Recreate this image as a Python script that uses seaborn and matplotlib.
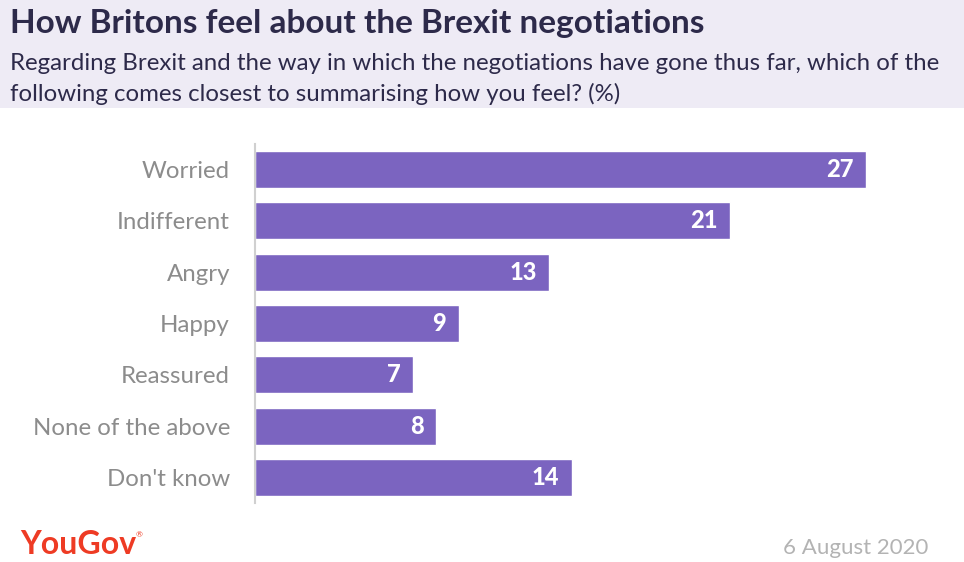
import matplotlib.pyplot as plt
import seaborn as sns
import pandas as pd

# data
categories = ["Worried", "Indifferent", "Angry", "Happy", "Reassured",
              "None of the above", "Don't know"]
values = [27, 21, 13, 9, 7, 8, 14]

title = "How Britons feel about the Brexit negotiations"
subtitle = ("Regarding Brexit and the way in which the negotiations have gone thus far, which of the\n"
            "following comes closest to summarising how you feel? (%)")
date_text = "6 August 2020"


def main():
    sns.set_theme(style="white")
    plt.rcParams['font.family'] = ['Lato', 'DejaVu Sans']

    df = pd.DataFrame({"category": categories, "value": values})

    fig = plt.figure(figsize=(9.64, 5.62), dpi=100)
    fig.patch.set_facecolor("white")

    # header band
    fig.patches.append(plt.Rectangle((0, 1 - 108 / 562), 1, 108 / 562,
                                     transform=fig.transFigure,
                                     facecolor="#eeebf5", edgecolor="none", zorder=0))
    fig.text(10 / 964, 1 - 23 / 562, title, fontsize=24, fontweight="bold",
             color="#2d2a4a", va="center", ha="left")
    fig.text(10 / 964, 1 - 79 / 562, subtitle, fontsize=17.3, color="#2d2a4a",
             va="center", ha="left", linespacing=1.45)

    ax = fig.add_axes([255 / 964, 1 - 503 / 562, (866 - 255) / 964, (503 - 144) / 562])
    sns.barplot(data=df, y="category", x="value", ax=ax, color="#7b64c0",
                saturation=1, width=0.72, orient="h")
    ax.set_xlim(0, 27)
    ax.set_ylim(6.5, -0.5)
    ax.set_xlabel("")
    ax.set_ylabel("")
    ax.set_xticks([])
    for s in ["top", "right", "bottom"]:
        ax.spines[s].set_visible(False)
    ax.spines["left"].set_color("#d0d0d0")
    ax.spines["left"].set_linewidth(1.5)
    ax.tick_params(axis="y", length=0, pad=18, labelsize=17.3, labelcolor="#8c8c8c")
    for lbl in ax.get_yticklabels():
        lbl.set_va("center_baseline")

    for i, v in enumerate(values):
        ax.text(v - 0.55, i, str(v), color="white", fontsize=17, fontweight="black",
                ha="right", va="center")

    fig.text(20 / 964, 1 - 545 / 562, "YouGov", fontsize=23, fontweight="bold",
             color="#ee3b24", va="center", ha="left")
    fig.text(136 / 964, 1 - 535 / 562, "®", fontsize=6, color="#ee3b24",
             va="center", ha="left")
    fig.text(928 / 964, 1 - 548 / 562, date_text, fontsize=16, color="#b3b3b3",
             va="center", ha="right")

    fig.savefig("out.png", dpi=100)


if __name__ == '__main__':
    main()
